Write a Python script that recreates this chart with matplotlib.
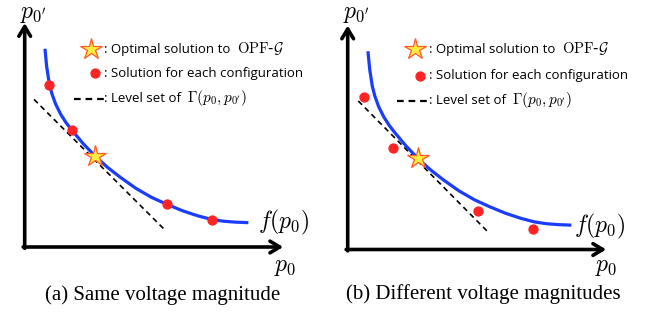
# sketch of the two-panel Pareto curve figure
import matplotlib
matplotlib.use('Agg')
import matplotlib.pyplot as plt

plt.rcParams['mathtext.fontset'] = 'cm'

# curve f(p0), same in both panels
curve_x = [0.79, 0.85, 0.95, 1.05, 1.20, 1.40, 1.60, 1.82, 2.25, 2.72, 3.20, 3.70,
           4.30, 4.90, 5.49, 6.10, 6.70, 7.23, 7.70, 8.15, 8.59]
curve_y = [8.78, 8.05, 7.30, 6.85, 6.37, 5.91, 5.55, 5.22, 4.63, 4.06, 3.56, 3.11,
           2.62, 2.22, 1.91, 1.62, 1.39, 1.23, 1.15, 1.11, 1.09]

# panel (a): same voltage magnitude
a_dots_x = [0.95, 1.82, 5.49, 7.23]
a_dots_y = [7.25, 5.24, 1.92, 1.22]
a_star = (2.72, 4.06)
a_level_x = [0.36, 5.45]
a_level_y = [6.59, 0.73]

# panel (b): different voltage magnitudes
b_dots_x = [0.64, 1.74, 5.05, 7.16]
b_dots_y = [6.79, 4.52, 1.72, 0.92]
b_star = (2.73, 4.07)
b_level_x = [0.41, 5.48]
b_level_y = [6.63, 0.72]

captions = ['(a) Same voltage magnitude', '(b) Different voltage magnitudes']

W, H = 652, 319
fig = plt.figure(figsize=(W / 100, H / 100), dpi=100)

blue = '#1a3cff'
red = '#ff2424'
legend_font = 'Open Sans'
leg_fs = 9.5


def panel(ox, oy, dots_x, dots_y, star, lvl_x, lvl_y, leg):
    # ox, oy: pixel position of the axis corner
    ax = fig.add_axes([ox / W, (H - oy) / H, 258.5 / W, 224 / H])
    ax.set_xlim(0, 10)
    ax.set_ylim(0, 10)
    ax.axis('off')
    # axis arrows
    arr = dict(arrowstyle='->,head_length=0.7,head_width=0.42', lw=2.6, color='black',
               shrinkA=0, shrinkB=0)
    ax.annotate('', xy=(1.0, 0), xytext=(-0.006, 0), xycoords='axes fraction', arrowprops=arr)
    ax.annotate('', xy=(0, 1.0), xytext=(0, -0.006), xycoords='axes fraction', arrowprops=arr)

    ax.plot(lvl_x, lvl_y, color='black', lw=1.2, ls=(0, (3.2, 2.4)))
    ax.plot(curve_x, curve_y, color=blue, lw=2.3, solid_joinstyle='round')
    ax.plot(dots_x, dots_y, 'o', color=red, ms=6.4, mec=red, clip_on=False)
    ax.plot([star[0]], [star[1]], marker='*', ms=16, mfc='#ffec40', mec='#ff5a2a', mew=0.9)

    # legend drawn by hand
    sx, sy, dx, dy, lx0, lx1, ly, tx, t1y, t2y, t3y = leg
    tr = ax.transAxes

    def px(x, y):
        return ((x - ox) / 258.5, (oy - y) / 224)

    ax.plot(*[[v] for v in px(sx, sy)], marker='*', ms=16, mfc='#ffec40', mec='#ff5a2a',
            mew=0.9, transform=tr, clip_on=False)
    ax.plot(*[[v] for v in px(dx, dy)], 'o', color=red, ms=6.4, transform=tr, clip_on=False)
    p0 = px(lx0, ly)
    p1 = px(lx1, ly)
    ax.plot([p0[0], p1[0]], [p0[1], p1[1]], color='black', lw=1.6, ls=(0, (3, 2.2)),
            transform=tr, clip_on=False)
    t1 = ax.text(*px(tx, t1y), ': Optimal solution to ', family=legend_font, fontsize=leg_fs,
                 va='center', transform=tr)
    ax.annotate(r'$\mathrm{OPF}$-$\mathcal{G}$', xy=(1, 0.5), xycoords=t1, xytext=(2, 0),
                textcoords='offset points', fontsize=10.5, va='center')
    ax.text(*px(tx, t2y), ': Solution for each configuration', family=legend_font,
            fontsize=leg_fs, va='center', transform=tr)
    t3 = ax.text(*px(tx, t3y), ': Level set of ', family=legend_font, fontsize=leg_fs,
                 va='center', transform=tr)
    ax.annotate(r"$\Gamma(p_0, p_{0'})$", xy=(1, 0.5), xycoords=t3, xytext=(2, 0),
                textcoords='offset points', fontsize=11, va='center')
    return ax


panel(24.7, 247, a_dots_x, a_dots_y, a_star, a_level_x, a_level_y,
      (91, 49, 95, 73, 74, 104, 98.5, 104, 49, 73, 98.5))
panel(347.7, 249.5, b_dots_x, b_dots_y, b_star, b_level_x, b_level_y,
      (415, 49, 420, 76, 397, 428, 100.5, 429, 49, 76, 100.5))


# axis labels and captions
def ftext(x, y, s, **kw):
    fig.text(x / W, 1 - y / H, s, **kw)


ftext(33, 13, r"$p_{0'}$", fontsize=17, ha='center', va='center')
ftext(356, 13, r"$p_{0'}$", fontsize=17, ha='center', va='center')
ftext(285, 266, r"$p_0$", fontsize=17, ha='center', va='center')
ftext(606, 266, r"$p_0$", fontsize=17, ha='center', va='center')
ftext(258, 222, r"$f(p_0)$", fontsize=17, ha='left', va='center')
ftext(574, 226, r"$f(p_0)$", fontsize=17, ha='left', va='center')
ftext(162.5, 295, captions[0], family='Liberation Serif', fontsize=15, ha='center', va='center')
ftext(483.5, 294, captions[1], family='Liberation Serif', fontsize=15, ha='center', va='center')

fig.savefig('out.png', dpi=100)
